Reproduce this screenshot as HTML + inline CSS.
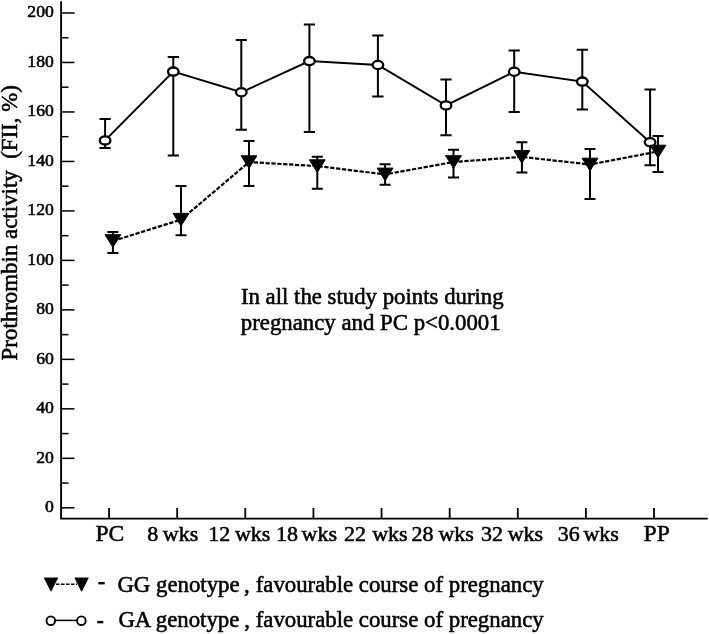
<!DOCTYPE html><html><head><meta charset="utf-8"><style>html,body{margin:0;padding:0;background:#fff;overflow:hidden}svg{display:block;will-change:transform}text{font-family:"Liberation Serif",serif;fill:#000;stroke:#000;stroke-width:0.55px}</style></head><body>
<svg width="709" height="634" viewBox="0 0 709 634">
<path d="M61.1 2.0 V518.6 H707.0" fill="none" stroke="#000" stroke-width="1.9" stroke-linecap="round"/>
<line x1="61" y1="507.80" x2="74.50" y2="507.80" stroke="#000" stroke-width="1.5"/>
<line x1="61" y1="483.06" x2="68.50" y2="483.06" stroke="#000" stroke-width="1.5"/>
<line x1="61" y1="458.32" x2="74.50" y2="458.32" stroke="#000" stroke-width="1.5"/>
<line x1="61" y1="433.58" x2="68.50" y2="433.58" stroke="#000" stroke-width="1.5"/>
<line x1="61" y1="408.84" x2="74.50" y2="408.84" stroke="#000" stroke-width="1.5"/>
<line x1="61" y1="384.10" x2="68.50" y2="384.10" stroke="#000" stroke-width="1.5"/>
<line x1="61" y1="359.36" x2="74.50" y2="359.36" stroke="#000" stroke-width="1.5"/>
<line x1="61" y1="334.62" x2="68.50" y2="334.62" stroke="#000" stroke-width="1.5"/>
<line x1="61" y1="309.88" x2="74.50" y2="309.88" stroke="#000" stroke-width="1.5"/>
<line x1="61" y1="285.14" x2="68.50" y2="285.14" stroke="#000" stroke-width="1.5"/>
<line x1="61" y1="260.40" x2="74.50" y2="260.40" stroke="#000" stroke-width="1.5"/>
<line x1="61" y1="235.66" x2="68.50" y2="235.66" stroke="#000" stroke-width="1.5"/>
<line x1="61" y1="210.92" x2="74.50" y2="210.92" stroke="#000" stroke-width="1.5"/>
<line x1="61" y1="186.18" x2="68.50" y2="186.18" stroke="#000" stroke-width="1.5"/>
<line x1="61" y1="161.44" x2="74.50" y2="161.44" stroke="#000" stroke-width="1.5"/>
<line x1="61" y1="136.70" x2="68.50" y2="136.70" stroke="#000" stroke-width="1.5"/>
<line x1="61" y1="111.96" x2="74.50" y2="111.96" stroke="#000" stroke-width="1.5"/>
<line x1="61" y1="87.22" x2="68.50" y2="87.22" stroke="#000" stroke-width="1.5"/>
<line x1="61" y1="62.48" x2="74.50" y2="62.48" stroke="#000" stroke-width="1.5"/>
<line x1="61" y1="37.74" x2="68.50" y2="37.74" stroke="#000" stroke-width="1.5"/>
<line x1="61" y1="13.00" x2="74.50" y2="13.00" stroke="#000" stroke-width="1.5"/>
<text x="53.9" y="512.10" font-size="17.5" text-anchor="end" textLength="8.84" lengthAdjust="spacingAndGlyphs">0</text>
<text x="53.9" y="462.62" font-size="17.5" text-anchor="end" textLength="17.68" lengthAdjust="spacingAndGlyphs">20</text>
<text x="53.9" y="413.14" font-size="17.5" text-anchor="end" textLength="17.68" lengthAdjust="spacingAndGlyphs">40</text>
<text x="53.9" y="363.66" font-size="17.5" text-anchor="end" textLength="17.68" lengthAdjust="spacingAndGlyphs">60</text>
<text x="53.9" y="314.18" font-size="17.5" text-anchor="end" textLength="17.68" lengthAdjust="spacingAndGlyphs">80</text>
<text x="53.9" y="264.70" font-size="17.5" text-anchor="end" textLength="26.51" lengthAdjust="spacingAndGlyphs">100</text>
<text x="53.9" y="215.22" font-size="17.5" text-anchor="end" textLength="26.51" lengthAdjust="spacingAndGlyphs">120</text>
<text x="53.9" y="165.74" font-size="17.5" text-anchor="end" textLength="26.51" lengthAdjust="spacingAndGlyphs">140</text>
<text x="53.9" y="116.26" font-size="17.5" text-anchor="end" textLength="26.51" lengthAdjust="spacingAndGlyphs">160</text>
<text x="53.9" y="66.78" font-size="17.5" text-anchor="end" textLength="26.51" lengthAdjust="spacingAndGlyphs">180</text>
<text x="53.9" y="17.30" font-size="17.5" text-anchor="end" textLength="26.51" lengthAdjust="spacingAndGlyphs">200</text>
<line x1="109.05" y1="508" x2="109.05" y2="518.6" stroke="#000" stroke-width="1.8"/>
<line x1="177.18" y1="508" x2="177.18" y2="518.6" stroke="#000" stroke-width="1.8"/>
<line x1="245.30" y1="508" x2="245.30" y2="518.6" stroke="#000" stroke-width="1.8"/>
<line x1="313.43" y1="508" x2="313.43" y2="518.6" stroke="#000" stroke-width="1.8"/>
<line x1="381.55" y1="508" x2="381.55" y2="518.6" stroke="#000" stroke-width="1.8"/>
<line x1="449.68" y1="508" x2="449.68" y2="518.6" stroke="#000" stroke-width="1.8"/>
<line x1="517.80" y1="508" x2="517.80" y2="518.6" stroke="#000" stroke-width="1.8"/>
<line x1="585.92" y1="508" x2="585.92" y2="518.6" stroke="#000" stroke-width="1.8"/>
<line x1="654.05" y1="508" x2="654.05" y2="518.6" stroke="#000" stroke-width="1.8"/>
<text x="95.50" y="540.5" font-size="23.5">PC</text>
<text x="147.30" y="540.5" font-size="22.0">8</text>
<text x="162.80" y="540.5" font-size="22.0">wks</text>
<text x="230.20" y="540.5" font-size="22.0" text-anchor="end">12</text>
<text x="234.90" y="540.5" font-size="22.0">wks</text>
<text x="297.90" y="540.5" font-size="22.0" text-anchor="end">18</text>
<text x="301.50" y="540.5" font-size="22.0">wks</text>
<text x="344.10" y="540.5" font-size="22.0">22</text>
<text x="372.20" y="540.5" font-size="22.0">wks</text>
<text x="411.60" y="540.5" font-size="22.0">28</text>
<text x="438.40" y="540.5" font-size="22.0">wks</text>
<text x="480.90" y="540.5" font-size="22.0">32</text>
<text x="507.70" y="540.5" font-size="22.0">wks</text>
<text x="557.70" y="540.5" font-size="22.0">36</text>
<text x="583.40" y="540.5" font-size="22.0">wks</text>
<text x="643.60" y="540.5" font-size="23.5">PP</text>
<text transform="translate(17.4,360.4) rotate(-90)" x="0" y="0" font-size="22.9" xml:space="preserve">Prothrombin activity  (FII, %)</text>
<text x="240.9" y="303.8" font-size="22.8">In all the study points during</text>
<text x="240.8" y="329.7" font-size="22.8">pregnancy and PC p&lt;0.0001</text>
<path d="M105.10 119.10 V147.90 M99.50 119.10 H110.70 M99.50 147.90 H110.70" stroke="#000" stroke-width="2.0" fill="none"/>
<path d="M173.30 57.00 V155.40 M167.70 57.00 H178.90 M167.70 155.40 H178.90" stroke="#000" stroke-width="2.0" fill="none"/>
<path d="M241.30 40.10 V129.70 M235.70 40.10 H246.90 M235.70 129.70 H246.90" stroke="#000" stroke-width="2.0" fill="none"/>
<path d="M309.40 24.50 V132.10 M303.80 24.50 H315.00 M303.80 132.10 H315.00" stroke="#000" stroke-width="2.0" fill="none"/>
<path d="M377.90 35.60 V96.50 M372.30 35.60 H383.50 M372.30 96.50 H383.50" stroke="#000" stroke-width="2.0" fill="none"/>
<path d="M446.00 79.50 V135.20 M440.40 79.50 H451.60 M440.40 135.20 H451.60" stroke="#000" stroke-width="2.0" fill="none"/>
<path d="M514.20 50.60 V111.90 M508.60 50.60 H519.80 M508.60 111.90 H519.80" stroke="#000" stroke-width="2.0" fill="none"/>
<path d="M582.30 49.70 V109.50 M576.70 49.70 H587.90 M576.70 109.50 H587.90" stroke="#000" stroke-width="2.0" fill="none"/>
<path d="M650.10 89.50 V165.20 M644.50 89.50 H655.70 M644.50 165.20 H655.70" stroke="#000" stroke-width="2.0" fill="none"/>
<polyline points="105.10,140.40 173.30,71.60 241.30,92.30 309.40,61.10 377.90,65.00 446.00,105.40 514.20,71.70 582.30,81.60 650.10,142.20" fill="none" stroke="#000" stroke-width="2.0"/>
<ellipse cx="105.10" cy="140.40" rx="5.3" ry="4.1" fill="#fff" stroke="#000" stroke-width="2.3"/>
<ellipse cx="173.30" cy="71.60" rx="5.3" ry="4.1" fill="#fff" stroke="#000" stroke-width="2.3"/>
<ellipse cx="241.30" cy="92.30" rx="5.3" ry="4.1" fill="#fff" stroke="#000" stroke-width="2.3"/>
<ellipse cx="309.40" cy="61.10" rx="5.3" ry="4.1" fill="#fff" stroke="#000" stroke-width="2.3"/>
<ellipse cx="377.90" cy="65.00" rx="5.3" ry="4.1" fill="#fff" stroke="#000" stroke-width="2.3"/>
<ellipse cx="446.00" cy="105.40" rx="5.3" ry="4.1" fill="#fff" stroke="#000" stroke-width="2.3"/>
<ellipse cx="514.20" cy="71.70" rx="5.3" ry="4.1" fill="#fff" stroke="#000" stroke-width="2.3"/>
<ellipse cx="582.30" cy="81.60" rx="5.3" ry="4.1" fill="#fff" stroke="#000" stroke-width="2.3"/>
<ellipse cx="650.10" cy="142.20" rx="5.3" ry="4.1" fill="#fff" stroke="#000" stroke-width="2.3"/>
<path d="M112.90 232.00 V253.00 M107.40 232.00 H118.40 M107.40 253.00 H118.40" stroke="#000" stroke-width="2.0" fill="none"/>
<path d="M181.00 186.00 V235.20 M175.50 186.00 H186.50 M175.50 235.20 H186.50" stroke="#000" stroke-width="2.0" fill="none"/>
<path d="M249.00 141.00 V186.10 M243.50 141.00 H254.50 M243.50 186.10 H254.50" stroke="#000" stroke-width="2.0" fill="none"/>
<path d="M317.30 156.80 V188.70 M311.80 156.80 H322.80 M311.80 188.70 H322.80" stroke="#000" stroke-width="2.0" fill="none"/>
<path d="M385.10 164.30 V184.80 M379.60 164.30 H390.60 M379.60 184.80 H390.60" stroke="#000" stroke-width="2.0" fill="none"/>
<path d="M453.50 149.80 V177.60 M448.00 149.80 H459.00 M448.00 177.60 H459.00" stroke="#000" stroke-width="2.0" fill="none"/>
<path d="M521.90 142.30 V172.40 M516.40 142.30 H527.40 M516.40 172.40 H527.40" stroke="#000" stroke-width="2.0" fill="none"/>
<path d="M590.00 149.00 V199.00 M584.50 149.00 H595.50 M584.50 199.00 H595.50" stroke="#000" stroke-width="2.0" fill="none"/>
<path d="M658.00 136.00 V171.90 M652.50 136.00 H663.50 M652.50 171.90 H663.50" stroke="#000" stroke-width="2.0" fill="none"/>
<polyline points="112.90,241.00 181.00,219.70 249.00,162.10 317.30,166.10 385.10,174.40 453.50,162.00 521.90,156.90 590.00,164.50 658.00,151.50" fill="none" stroke="#000" stroke-width="2.2" stroke-dasharray="4.3 1.6"/>
<path d="M105.00 234.70 H120.80 L112.90 247.30 Z" fill="#000" stroke="#000" stroke-width="1" stroke-linejoin="round"/>
<path d="M173.10 213.40 H188.90 L181.00 226.00 Z" fill="#000" stroke="#000" stroke-width="1" stroke-linejoin="round"/>
<path d="M241.10 155.80 H256.90 L249.00 168.40 Z" fill="#000" stroke="#000" stroke-width="1" stroke-linejoin="round"/>
<path d="M309.40 159.80 H325.20 L317.30 172.40 Z" fill="#000" stroke="#000" stroke-width="1" stroke-linejoin="round"/>
<path d="M377.20 168.10 H393.00 L385.10 180.70 Z" fill="#000" stroke="#000" stroke-width="1" stroke-linejoin="round"/>
<path d="M445.60 155.70 H461.40 L453.50 168.30 Z" fill="#000" stroke="#000" stroke-width="1" stroke-linejoin="round"/>
<path d="M514.00 150.60 H529.80 L521.90 163.20 Z" fill="#000" stroke="#000" stroke-width="1" stroke-linejoin="round"/>
<path d="M582.10 158.20 H597.90 L590.00 170.80 Z" fill="#000" stroke="#000" stroke-width="1" stroke-linejoin="round"/>
<path d="M650.10 145.20 H665.90 L658.00 157.80 Z" fill="#000" stroke="#000" stroke-width="1" stroke-linejoin="round"/>
<line x1="56" y1="584.2" x2="77" y2="584.2" stroke="#000" stroke-width="1.5" stroke-dasharray="3.5 1.5"/>
<path d="M44.3 577.9 H57.7 L51 591.3 Z M74.9 577.9 H88.3 L81.6 591.3 Z" fill="#000" stroke="#000" stroke-width="0.8" stroke-linejoin="round"/>
<line x1="98.3" y1="583.2" x2="104.7" y2="583.2" stroke="#000" stroke-width="2.4"/>
<line x1="51" y1="620.4" x2="81.4" y2="620.4" stroke="#000" stroke-width="1.5"/>
<circle cx="50.8" cy="620.7" r="4.3" fill="#fff" stroke="#000" stroke-width="1.9"/>
<circle cx="81.4" cy="620.7" r="4.3" fill="#fff" stroke="#000" stroke-width="1.9"/>
<line x1="97.3" y1="622.1" x2="103.3" y2="622.1" stroke="#000" stroke-width="2.4"/>
<text x="117.4" y="591.9" font-size="22.8">GG genotype</text>
<text x="244.1" y="591.9" font-size="22.8">,</text>
<text x="255.7" y="591.9" font-size="22.8">favourable course of pregnancy</text>
<text x="118.4" y="627.3" font-size="22.8">GA genotype</text>
<text x="244.2" y="627.3" font-size="22.8">,</text>
<text x="255.7" y="627.3" font-size="22.8">favourable course of pregnancy</text>
</svg></body></html>
